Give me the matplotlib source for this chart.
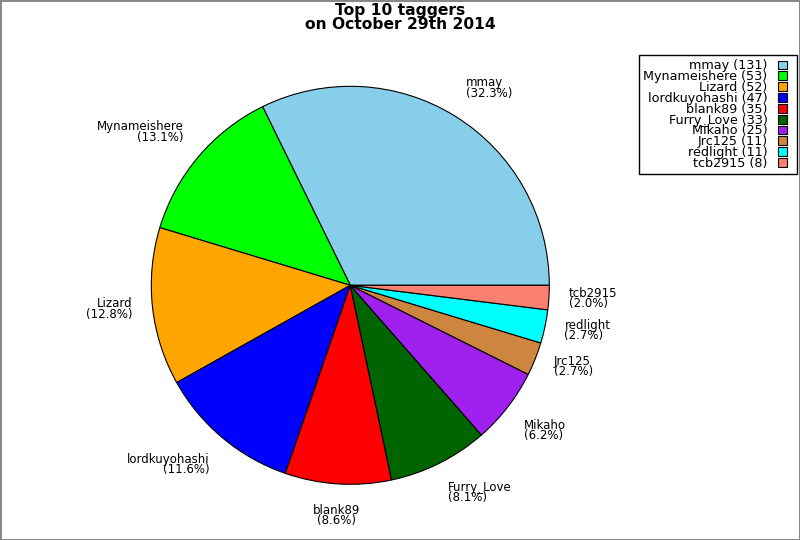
import numpy as np
import matplotlib
matplotlib.use('Agg')
import matplotlib.pyplot as plt
from matplotlib.patches import Patch, Rectangle
from matplotlib.legend_handler import HandlerPatch

names = ['mmay', 'Mynameishere', 'Lizard', 'lordkuyohashi', 'blank89',
         'Furry_Love', 'Mikaho', 'Jrc125', 'redlight', 'tcb2915']
counts = [131, 53, 52, 47, 35, 33, 25, 11, 11, 8]
colors = ['#87CEEB', '#00FF00', '#FFA500', '#0000FF', '#FF0000',
          '#006400', '#A020F0', '#CD853F', '#00FFFF', '#FA8072']

total = float(sum(counts))

fig = plt.figure(figsize=(8, 5.4), dpi=100)
fig.patch.set_facecolor('white')
fig.patch.set_edgecolor('#888888')
fig.patch.set_linewidth(2)

# pie: centre ~ (350, 285) px, radius ~199 px
r = 199.0
cx, cy = 350.3, 285.3
ax = fig.add_axes([(cx - r) / 800, (540 - cy - r) / 540, 2 * r / 800, 2 * r / 540])
wedges, _ = ax.pie(counts, colors=colors, startangle=0, counterclock=True,
                   wedgeprops=dict(edgecolor='black', linewidth=0.8))
ax.set_xlim(-1, 1)
ax.set_ylim(-1, 1)
ax.axis('off')

for w, n, c in zip(wedges, names, counts):
    a = np.deg2rad((w.theta1 + w.theta2) / 2.0)
    ca, sa = np.cos(a), np.sin(a)
    if ca > 0.1:
        ha = 'left'
    elif ca < -0.1:
        ha = 'right'
    else:
        ha = 'center'
    if sa > 0.5:
        va = 'bottom'
    elif sa < -0.5:
        va = 'top'
    else:
        va = 'center'
    ax.text(1.1 * ca, 1.1 * sa, '%s\n(%.1f%%)' % (n, 100 * c / total),
            ha=ha, va=va, fontsize=8.5, linespacing=0.72, clip_on=False)

fig.text(0.5, 1 - 3.0 / 540, 'Top 10 taggers\non October 29th 2014',
         ha='center', va='top', fontsize=11.2, fontweight='bold', linespacing=0.95)


# small square drawn at the left of a wider handle box -> extra right padding
def small_box(legend, orig_handle, xdescent, ydescent, width, height, fontsize):
    return Rectangle((-xdescent, -ydescent), height, height)


handles = [Patch(facecolor=col, edgecolor='black', linewidth=0.8) for col in colors]
labels = ['%s (%d)' % (n, c) for n, c in zip(names, counts)]
leg = fig.legend(handles, labels, loc='upper right',
                 bbox_to_anchor=(797.0 / 800, 1 - 55.0 / 540),
                 bbox_transform=fig.transFigure, borderaxespad=0,
                 markerfirst=False, fontsize=9.2, labelspacing=-0.17,
                 handlelength=1.1, handleheight=0.68, handletextpad=0.85,
                 borderpad=0.35, fancybox=False, framealpha=1,
                 handler_map={Patch: HandlerPatch(patch_func=small_box)})
leg.get_frame().set_edgecolor('black')
leg.get_frame().set_linewidth(1)

fig.savefig('out.png', dpi=100)
